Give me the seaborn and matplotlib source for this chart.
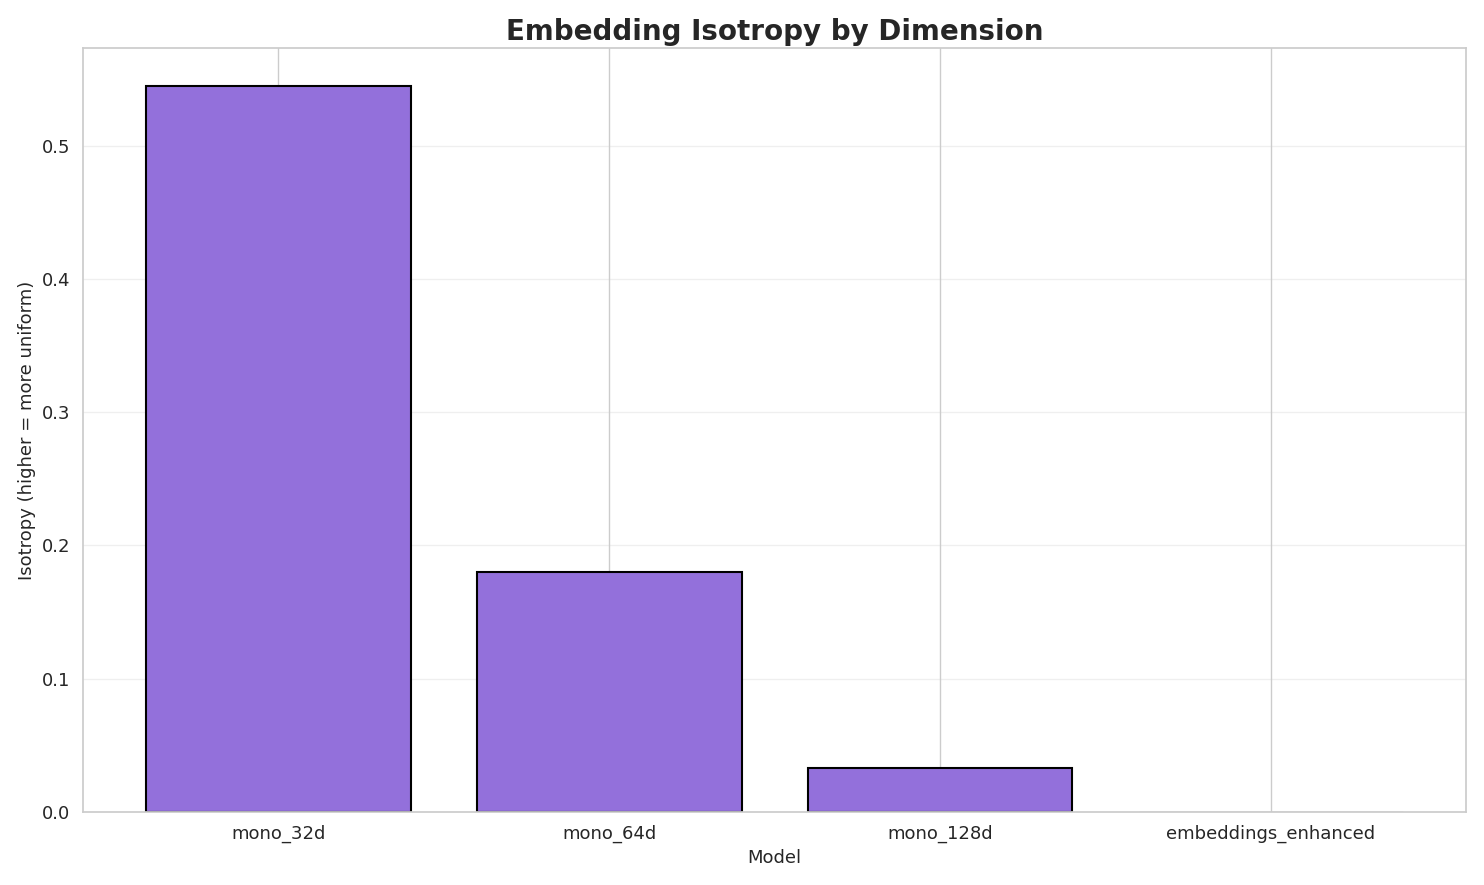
import matplotlib
matplotlib.use("Agg")
import matplotlib.pyplot as plt
import seaborn as sns
import pandas as pd

models = ["mono_32d", "mono_64d", "mono_128d", "embeddings_enhanced"]
isotropy = [0.545, 0.180, 0.033, 0.0002]

sns.set_theme(style="whitegrid")
df = pd.DataFrame({"Model": models, "Isotropy": isotropy})
fig, ax = plt.subplots(figsize=(14.84, 8.85), dpi=100)
sns.barplot(data=df, x="Model", y="Isotropy", color="#9370DB", saturation=1,
            edgecolor="black", linewidth=1.5, width=0.8, ax=ax)
ax.patches[3].set_edgecolor("#999999")
ax.patches[3].set_linewidth(1.0)
ax.xaxis.grid(True, color="#cccccc", linewidth=1)
ax.yaxis.grid(True, alpha=0.3)
ax.set_xlim(-0.59, 3.59)
ax.set_ylim(0, 0.573)
ax.set_title("Embedding Isotropy by Dimension", fontsize=20, fontweight="bold")
ax.set_xlabel("Model", fontsize=13)
ax.set_ylabel("Isotropy (higher = more uniform)", fontsize=13)
ax.tick_params(labelsize=13)
fig.tight_layout()
fig.savefig("out.png", dpi=100)
